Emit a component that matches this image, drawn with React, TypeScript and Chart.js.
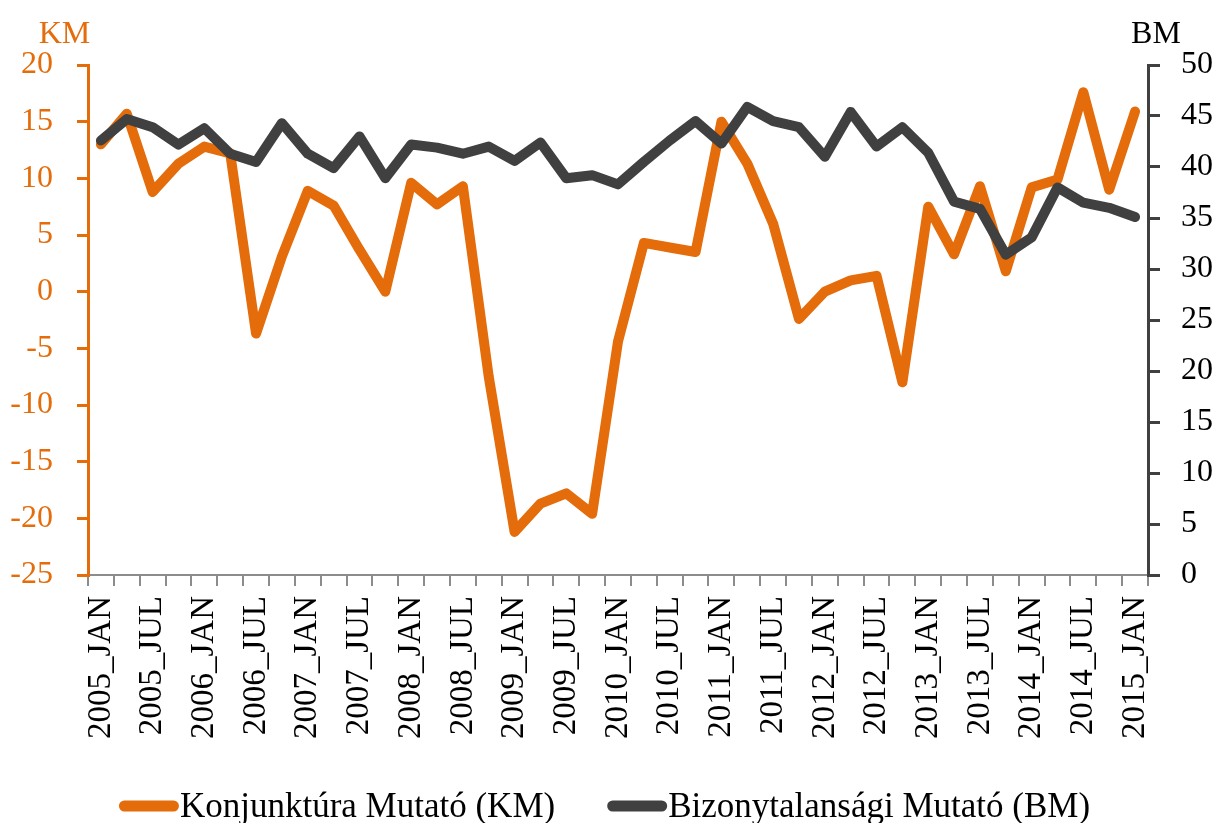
import React, { useEffect, useRef } from "react";
import { Chart, registerables } from "chart.js";

Chart.register(...registerables);

const categories: string[] = [
  "2005_JAN", "2005_APR", "2005_JUL", "2005_OKT",
  "2006_JAN", "2006_APR", "2006_JUL", "2006_OKT",
  "2007_JAN", "2007_APR", "2007_JUL", "2007_OKT",
  "2008_JAN", "2008_APR", "2008_JUL", "2008_OKT",
  "2009_JAN", "2009_APR", "2009_JUL", "2009_OKT",
  "2010_JAN", "2010_APR", "2010_JUL", "2010_OKT",
  "2011_JAN", "2011_APR", "2011_JUL", "2011_OKT",
  "2012_JAN", "2012_APR", "2012_JUL", "2012_OKT",
  "2013_JAN", "2013_APR", "2013_JUL", "2013_OKT",
  "2014_JAN", "2014_APR", "2014_JUL", "2014_OKT",
  "2015_JAN",
];

const kmValues: number[] = [
  13.0, 15.7, 8.8, 11.3, 12.8, 12.2, -3.7, 3.1, 8.9, 7.6,
  3.7, 0.0, 9.6, 7.7, 9.3, -7.5, -21.2, -18.7, -17.8, -19.6,
  -4.4, 4.3, 3.9, 3.5, 15.0, 11.3, 6.0, -2.4, 0.0, 1.0,
  1.4, -8.0, 7.5, 3.3, 9.3, 1.8, 9.2, 9.9, 17.6, 9.0,
  15.9,
];

const bmValues: number[] = [
  42.6, 44.7, 43.9, 42.2, 43.8, 41.3, 40.5, 44.3, 41.3, 39.9,
  43.0, 38.9, 42.2, 41.9, 41.3, 42.0, 40.6, 42.4, 38.9, 39.2,
  38.3, 40.5, 42.6, 44.5, 42.3, 45.9, 44.5, 43.9, 41.0, 45.4,
  42.0, 43.9, 41.4, 36.6, 35.9, 31.4, 33.1, 38.0, 36.5, 36.0,
  35.1,
];

const kmTicks = { min: -25, max: 20, step: 5 };
const bmTicks = { min: 0, max: 50, step: 5 };

const seriesNames: string[] = [
  "Konjunktúra Mutató (KM)",
  "Bizonytalansági Mutató (BM)",
];

const ORANGE = "#E46C0A";
const DARK = "#404040";
const FONT = "'Liberation Serif', 'Times New Roman', serif";

const titlesAndLegend = {
  id: "titlesAndLegend",
  afterDraw(chart: any) {
    const ctx = chart.ctx as CanvasRenderingContext2D;
    const area = chart.chartArea;
    ctx.save();
    // axis titles
    ctx.font = `32px ${FONT}`;
    ctx.textAlign = "center";
    ctx.textBaseline = "alphabetic";
    ctx.fillStyle = ORANGE;
    ctx.fillText("KM", area.left - 23.5, 43);
    ctx.fillStyle = "#000000";
    ctx.fillText("BM", area.right + 8, 43);

    // legend
    const ds = chart.data.datasets;
    ctx.font = `35px ${FONT}`;
    ctx.textAlign = "left";
    const lineLen = 49;
    const lw = 11;
    const lineBox = lineLen + lw; // including round caps
    const gap = 1;
    const spacing = 52;
    const widths = ds.map((d: any) => ctx.measureText(d.label).width);
    const total =
      widths.reduce((a: number, w: number) => a + w + lineBox + gap, 0) +
      spacing * (ds.length - 1);
    let x = chart.width / 2 - 4.5 - total / 2;
    const cy = 806;
    ds.forEach((d: any, i: number) => {
      ctx.strokeStyle = d.borderColor;
      ctx.lineWidth = lw;
      ctx.lineCap = "round";
      ctx.beginPath();
      ctx.moveTo(x + lw / 2, cy);
      ctx.lineTo(x + lw / 2 + lineLen, cy);
      ctx.stroke();
      ctx.fillStyle = "#000000";
      ctx.fillText(d.label, x + lineBox + gap, 817);
      x += lineBox + gap + widths[i] + spacing;
    });
    ctx.restore();
  },
};

export default function App() {
  const ref = useRef<HTMLCanvasElement | null>(null);

  useEffect(() => {
    document.body.style.margin = "0";
    if (!ref.current) return;
    const chart = new Chart(ref.current, {
      type: "line",
      data: {
        labels: categories,
        datasets: [
          {
            label: seriesNames[0],
            data: kmValues,
            borderColor: ORANGE,
            backgroundColor: ORANGE,
            borderWidth: 10,
            borderJoinStyle: "round",
            borderCapStyle: "round",
            pointRadius: 0,
            tension: 0,
            yAxisID: "y",
            order: 1,
          },
          {
            label: seriesNames[1],
            data: bmValues,
            borderColor: DARK,
            backgroundColor: DARK,
            borderWidth: 10,
            borderJoinStyle: "round",
            borderCapStyle: "round",
            pointRadius: 0,
            tension: 0,
            yAxisID: "y1",
            order: 0,
          },
        ],
      },
      options: {
        animation: false,
        responsive: false,
        layout: { padding: { top: 65, left: 0, right: 0, bottom: 0 } },
        plugins: {
          legend: { display: false },
          tooltip: { enabled: false },
        },
        scales: {
          x: {
            type: "category",
            offset: true,
            grid: {
              offset: true,
              drawOnChartArea: false,
              drawTicks: true,
              tickLength: 11,
              color: "#8C8C8C",
              lineWidth: 2,
            },
            border: { display: true, color: "#8C8C8C", width: 2 },
            ticks: {
              autoSkip: false,
              minRotation: 90,
              maxRotation: 90,
              padding: 10,
              color: "#000000",
              font: { family: FONT, size: 33 },
              callback: (_v: any, i: number) => (i % 2 === 0 ? categories[i] : ""),
            },
            afterFit: (s: any) => {
              s.height = 823 - 575;
            },
          },
          y: {
            position: "left",
            min: kmTicks.min,
            max: kmTicks.max,
            grid: {
              drawOnChartArea: false,
              drawTicks: true,
              tickLength: 11,
              color: ORANGE,
              lineWidth: 3,
            },
            border: { display: true, color: ORANGE, width: 3 },
            ticks: {
              stepSize: kmTicks.step,
              padding: 24,
              color: ORANGE,
              font: { family: FONT, size: 32 },
            },
            afterFit: (s: any) => {
              s.width = 88;
            },
          },
          y1: {
            position: "right",
            min: bmTicks.min,
            max: bmTicks.max,
            grid: {
              drawOnChartArea: false,
              drawTicks: true,
              tickLength: 12,
              color: DARK,
              lineWidth: 3,
            },
            border: { display: true, color: DARK, width: 3 },
            ticks: {
              stepSize: bmTicks.step,
              padding: 21,
              color: "#000000",
              font: { family: FONT, size: 32 },
            },
            afterFit: (s: any) => {
              s.width = 1218 - 1148;
            },
          },
        },
      },
      plugins: [titlesAndLegend],
    });
    return () => chart.destroy();
  }, []);

  return (
    <div style={{ width: 1218, height: 823 }}>
      <canvas ref={ref} width={1218} height={823} style={{ display: "block" }} />
    </div>
  );
}
